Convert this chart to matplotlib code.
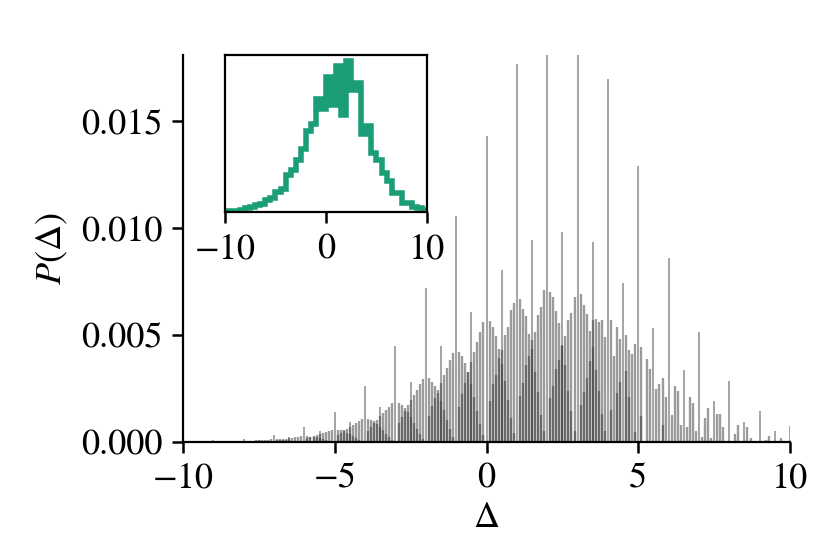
import numpy as np
import matplotlib
matplotlib.use("Agg")
import matplotlib.pyplot as plt

plt.rcParams['font.family'] = ['STIXGeneral', 'DejaVu Serif']
plt.rcParams['mathtext.fontset'] = 'stix'
plt.rcParams['font.size'] = 13

# ---------------- data (units of 1e-5 for main panel) ----------------
hump_start = list(range(-10, 10))
rise_offsets = [0.1, 0.2, 0.3, 0.4, 0.5, 0.6, 0.7, 0.8, 0.9]
fall_offsets = [1.1, 1.2, 1.3, 1.4, 1.5, 1.6, 1.7, 1.8, 1.9]

rise_heights = [
    [1, 1, 1, 1, 1, 1, 2, 2, 2],
    [2, 2, 3, 3, 4, 4, 5, 5, 6],
    [4, 5, 6, 7, 8, 9, 10, 11, 12],
    [8, 11, 13, 15, 18, 20, 22, 24, 27],
    [17, 23, 28, 33, 38, 43, 47, 52, 57],
    [32, 43, 54, 63, 72, 81, 90, 99, 108],
    [53, 72, 89, 105, 120, 135, 150, 165, 181],
    [87, 118, 146, 171, 195, 220, 245, 270, 295],
    [123, 167, 207, 242, 277, 312, 348, 383, 418],
    [165, 224, 277, 325, 372, 419, 466, 513, 561],
    [190, 270, 315, 392, 428, 500, 538, 615, 650],
    [215, 275, 360, 400, 475, 515, 595, 630, 712],
    [205, 262, 340, 385, 455, 495, 570, 605, 680],
    [175, 235, 300, 380, 570, 575, 560, 570, 490],
    [150, 0, 230, 280, 0, 500, 430, 410, 460],
    [120, 0, 0, 0, 0, 250, 270, 300, 210],
    [0, 0, 0, 0, 0, 70, 210, 180, 50],
    [0, 0, 0, 0, 0, 130, 130, 70, 0],
    [0, 0, 0, 0, 0, 70, 20, 0, 0],
    [0, 0, 0, 0, 0, 0, 20, 0, 0],
]
fall_heights = [
    [2, 2, 2, 1, 1, 1, 1, 0, 0],
    [6, 5, 5, 4, 4, 3, 2, 1, 0],
    [12, 12, 11, 10, 8, 6, 4, 2, 1],
    [27, 25, 24, 21, 17, 13, 9, 5, 2],
    [58, 55, 50, 44, 37, 29, 20, 11, 4],
    [109, 104, 96, 84, 71, 55, 38, 22, 8],
    [182, 173, 160, 141, 118, 91, 63, 36, 13],
    [298, 282, 260, 229, 192, 149, 102, 59, 22],
    [422, 400, 370, 326, 273, 211, 145, 84, 31],
    [566, 537, 496, 437, 366, 283, 195, 112, 41],
    [668, 620, 590, 505, 435, 325, 235, 125, 50],
    [700, 680, 612, 555, 450, 362, 238, 146, 50],
    [690, 640, 600, 518, 446, 335, 240, 130, 52],
    [570, 400, 540, 480, 0, 330, 210, 0, 45],
    [442, 0, 386, 340, 0, 0, 0, 80, 0],
    [125, 260, 240, 80, 0, 0, 0, 0, 0],
    [25, 110, 160, 20, 0, 0, 0, 0, 0],
    [0, 35, 80, 0, 0, 0, 0, 0, 0],
    [0, 10, 30, 0, 0, 0, 0, 0, 0],
    [0, 0, 0, 0, 0, 0, 0, 0, 0],
]

int_x = list(range(-10, 11))
int_heights = [1, 7, 15, 33, 70, 140, 260, 447, 720, 1056, 1430,
               1767, 1950, 1950, 1696, 1290, 862, 515, 283, 147, 75]
half_x = [-9.5, -8.5, -7.5, -6.5, -5.5, -4.5, -3.5, -2.5, -1.5, -0.5,
          0.5, 1.5, 2.5, 3.5, 4.5, 5.5, 6.5, 7.5, 8.5, 9.5]
half_heights = [2, 5, 11, 24, 50, 95, 165, 280, 450, 610,
                806, 947, 980, 934, 745, 534, 337, 190, 95, 50]

# inset histogram (relative heights), bin edges every 0.5
inset_edges = [-10 + 0.5 * i for i in range(41)]
inset_values = [0.005, 0.007, 0.01, 0.015, 0.025, 0.03, 0.045, 0.055, 0.075, 0.09,
                0.13, 0.15, 0.24, 0.27, 0.33, 0.40, 0.52, 0.56, 0.72, 0.66,
                0.86, 0.68, 0.93, 0.62, 0.96, 0.78, 0.82, 0.50, 0.55, 0.38,
                0.33, 0.25, 0.20, 0.12, 0.12, 0.06, 0.06, 0.03, 0.025, 0.012]

scale = 1e-5

# ---------------- figure ----------------
fig = plt.figure(figsize=(4.16, 2.77), dpi=200)
ax = fig.add_axes([0.22, 0.2022, 0.7295, 0.6985])

line_kw = dict(color='0.22', alpha=0.5, linewidth=0.85)
for k, rh, fh in zip(hump_start, rise_heights, fall_heights):
    xs = [k + o for o in rise_offsets]
    ax.vlines(xs, 0, [h * scale for h in rh], **line_kw)
    xs = [k + o for o in fall_offsets]
    ax.vlines(xs, 0, [h * scale for h in fh], **line_kw)

ax.vlines(int_x, 0, [h * scale for h in int_heights], color='0.25', alpha=0.6, linewidth=0.55)
ax.vlines(half_x, 0, [h * scale for h in half_heights], color='0.25', alpha=0.6, linewidth=0.55)

ax.set_xlim(-10, 10)
ax.set_ylim(0, 0.0181)
ax.set_xticks([-10, -5, 0, 5, 10])
ax.set_yticks([0.0, 0.005, 0.010, 0.015])
ax.set_yticklabels(['0.000', '0.005', '0.010', '0.015'])
ax.spines['top'].set_visible(False)
ax.spines['right'].set_visible(False)
ax.tick_params(width=0.9, length=4)
ax.set_xlabel(r'$\Delta$', labelpad=2)
ax.set_ylabel(r'$P(\Delta)$', labelpad=4)

# inset
axin = fig.add_axes([0.2704, 0.617, 0.2428, 0.2834])
axin.stairs(inset_values, inset_edges, color='#1b9e77', linewidth=2.0)
axin.set_xlim(-10, 10)
axin.set_ylim(0, 1.0)
axin.set_xticks([-10, 0, 10])
axin.set_yticks([])
axin.tick_params(width=0.9, length=4)

fig.savefig('out.png', dpi=200)
